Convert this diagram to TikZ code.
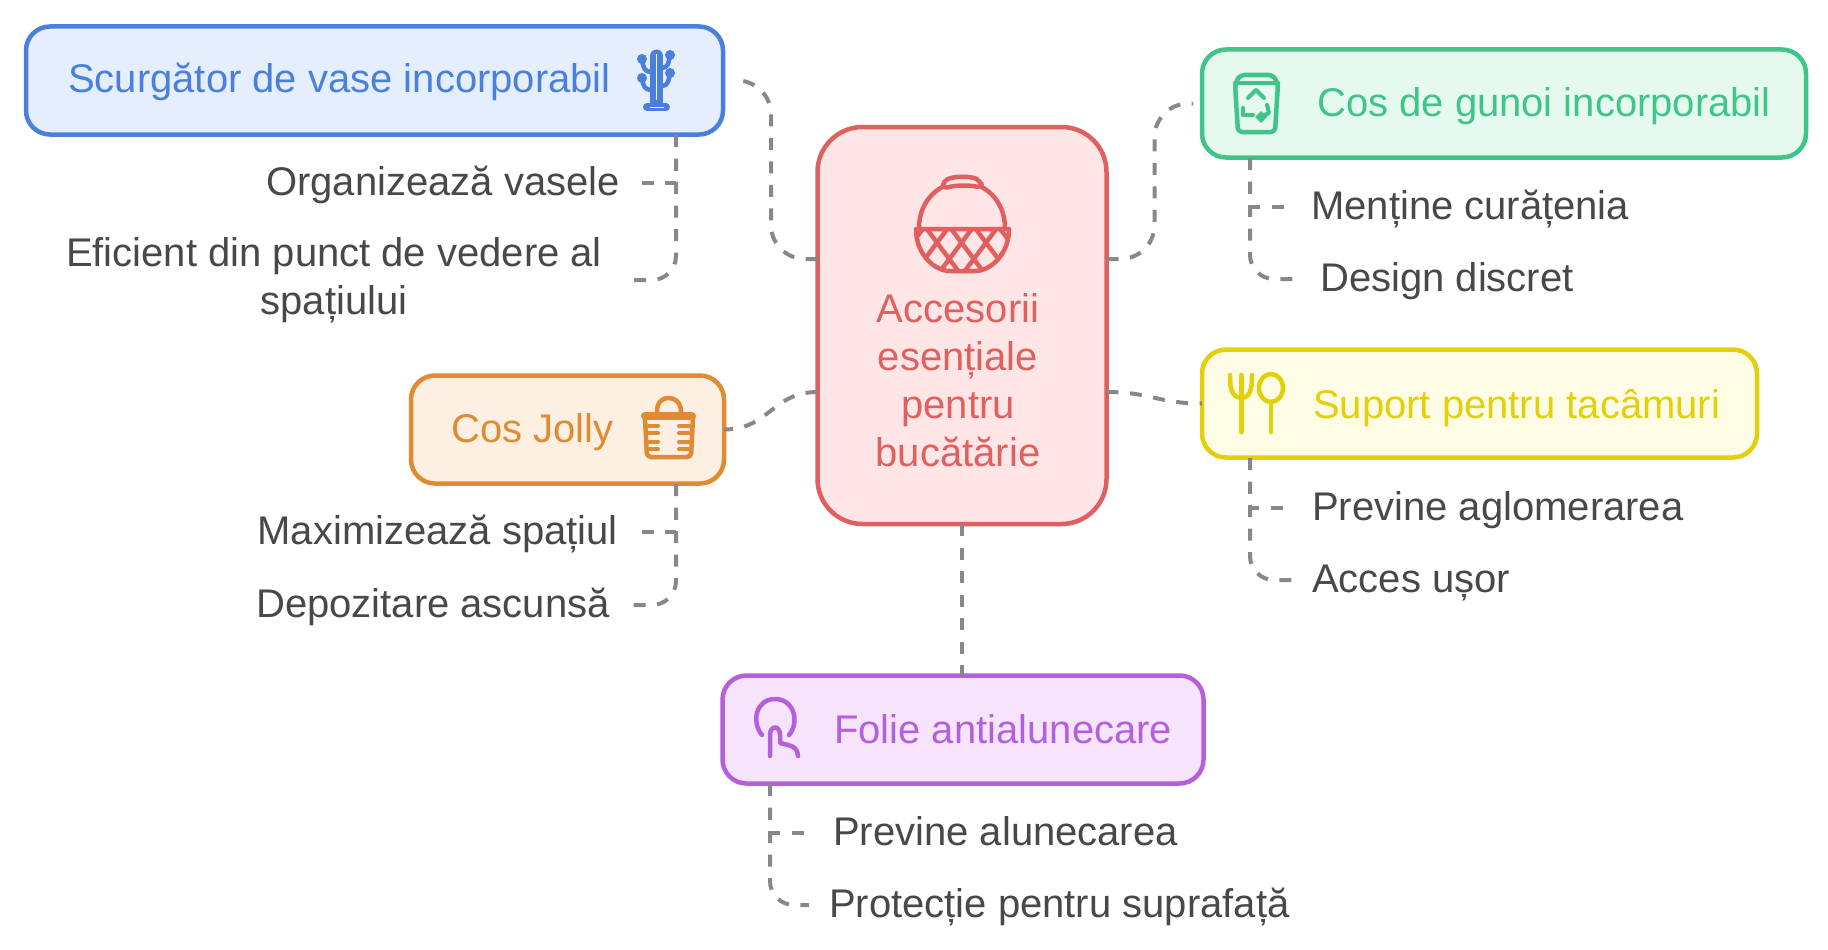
\documentclass[tikz,border=0pt]{standalone}
\usepackage{fontspec}
\setmainfont{Liberation Sans}
\definecolor{bluel}{HTML}{4A80DC}\definecolor{bluef}{HTML}{E4EEFD}
\definecolor{greenl}{HTML}{3FC48A}\definecolor{greenf}{HTML}{E6F9EF}
\definecolor{yell}{HTML}{E3CF0A}\definecolor{yelf}{HTML}{FEFCE4}
\definecolor{oral}{HTML}{E08A32}\definecolor{oraf}{HTML}{FDF0E2}
\definecolor{purl}{HTML}{B45FDC}\definecolor{purf}{HTML}{F5E4FC}
\definecolor{redl}{HTML}{E05F5F}\definecolor{redf}{HTML}{FEE6E6}
\definecolor{leaftxt}{HTML}{484848}\definecolor{linkc}{HTML}{888888}
\tikzset{
  box/.style={draw=#1l,fill=#1f,line width=4.5pt,rounded corners=24pt,inner sep=0pt,outer sep=0pt,minimum height=108pt},
  multi/.style={font=\fontsize{40}{48}\selectfont,inner sep=0pt,align=center},
  txt/.style={multi,align=none,text height=33pt,text depth=8pt},
  title/.style={txt,anchor=west,text=#1l},
  leaf/.style={txt,text=leaftxt},
  link/.style={draw=linkc,line width=4pt,dash pattern=on 12pt off 11.5pt},
  trunk/.style={link,rounded corners=24pt},
  bendlink/.style={link,rounded corners=34pt},
  ico/.style={draw=#1l,line width=4.5pt,line cap=round,line join=round},
}
\begin{document}
\begin{tikzpicture}[x=1pt,y=-1pt]
\useasboundingbox (0,0) rectangle (1828,950);
\node [box=red,minimum width=289pt,minimum height=397pt,rounded corners=45pt] (hub) at (962,325.5) {};
\node [box=blue,minimum width=697pt] (drainer) at (374.5,80.5) {};
\node [box=green,minimum width=604pt] (bin) at (1504,103.5) {};
\node [box=yel,minimum width=555pt] (cutlery) at (1479.5,403.5) {};
\node [box=ora,minimum width=313pt] (jolly) at (567.5,429.5) {};
\node [box=pur,minimum width=481pt] (mat) at (963,729.5) {};
\node [title=blue] (drainertxt) at (68,80) {Scurgător de vase incorporabil};
\node [title=green] (bintxt) at (1317,104) {Cos de gunoi incorporabil};
\node [title=yel] (cutlerytxt) at (1313,406) {Suport pentru tacâmuri};
\node [title=ora] (jollytxt) at (451,430) {Cos Jolly};
\node [title=pur] (mattxt) at (834,731) {Folie antialunecare};
\node [multi,text=redl] (hubtxt) at (958,380) {Accesorii\\esențiale\\pentru\\bucătărie};
\node [leaf,anchor=east] (organize) at (620,183) {Organizează vasele};
\node [multi,text=leaftxt] (efficient) at (334,280) {Eficient din punct de vedere al\\spațiului};
\node [leaf,anchor=west] (clean) at (1311,207) {Menține curățenia};
\node [leaf,anchor=west] (discreet) at (1320,279) {Design discret};
\node [leaf,anchor=west] (clutter) at (1312,508) {Previne aglomerarea};
\node [leaf,anchor=west] (access) at (1312,580) {Acces ușor};
\node [leaf,anchor=east] (space) at (618,532) {Maximizează spațiul};
\node [leaf,anchor=east] (hidden) at (610,605) {Depozitare ascunsă};
\node [leaf,anchor=west] (slip) at (833,833) {Previne alunecarea};
\node [leaf,anchor=west] (protect) at (829,905) {Protecție pentru suprafață};
\coordinate (bendblue) at (771,80.5);
\coordinate (bendgreen) at (1154.5,103.5);
\draw [bendlink] ([yshift=66.5pt]hub.west) -| (bendblue) -- ([xshift=10pt]drainer.east);
\draw [bendlink] ([yshift=66.5pt]hub.east) -| (bendgreen) -- ([xshift=-9pt]bin.west);
\draw [link] ([yshift=-66.5pt]hub.west) .. controls +(-45,0) and +(45,0) .. (jolly.east);
\draw [link] ([yshift=-66.5pt]hub.east) .. controls +(45,0) and +(-45,0) .. (cutlery.west);
\draw [link] (hub.south) -- (hub.south |- mat.north);
\coordinate (trunkblue) at (676,135);
\coordinate (trunkgreen) at (1250,158);
\coordinate (trunkyel) at (1250,458);
\coordinate (trunkora) at (676,484);
\coordinate (trunkpur) at (770,784);
\draw [link] (trunkblue) |- ([xshift=20pt]organize.east);
\draw [trunk] (trunkblue) |- ([xshift=31pt]efficient.east);
\draw [link] (trunkgreen) |- ([xshift=-25pt]clean.west);
\draw [trunk] (trunkgreen) |- ([xshift=-18pt]discreet.west);
\draw [link] (trunkyel) |- ([xshift=-26pt]clutter.west);
\draw [trunk] (trunkyel) |- ([xshift=-18pt]access.west);
\draw [link] (trunkora) |- ([xshift=18pt]space.east);
\draw [trunk] (trunkora) |- ([xshift=20pt]hidden.east);
\draw [link] (trunkpur) |- ([xshift=-27pt]slip.west);
\draw [trunk] (trunkpur) |- ([xshift=-20pt]protect.west);
% hub basket
\draw [ico=red] (919,228) .. controls (919,200) and (940,182) .. (962,182) .. controls (984,182) and (1005,200) .. (1005,228);
\draw [ico=red,fill=redf,rounded corners=5pt] (943,181) .. controls (955,176) and (970,176) .. (981,181) -- (982,188) .. controls (970,185) and (955,185) .. (943,189) -- cycle;
\begin{scope}
\clip (916,229) .. controls (916,255) and (935,271) .. (950,271) -- (975,271) .. controls (990,271) and (1009,255) .. (1009,229) -- cycle;
\foreach \s in {901.5,926,950.5,975,999.5} {
  \draw [ico=red] (\s,228) -- ++(36,48);
  \draw [ico=red] (\s+22,228) -- ++(-36,48);
}
\end{scope}
\draw [ico=red] (916,229) .. controls (916,255) and (935,271) .. (950,271) -- (975,271) .. controls (990,271) and (1009,255) .. (1009,229) -- cycle;
% drainer icon
\draw [ico=blue,line width=13pt] (656.5,56) -- (656.5,104);
\draw [white!30!bluef,line width=1.5pt] (656.5,54) -- (656.5,100);
\draw [ico=blue,line width=8pt] (647,107) -- (666,107);
\draw [bluef,line width=1pt] (650,107) -- (664,107);
\draw [ico=blue] (651,72) .. controls (645,72) and (643,68) .. (642,59);
\draw [ico=blue] (651,90) .. controls (645,90) and (643,86) .. (642,78);
\draw [ico=blue] (662,68) .. controls (668,68) and (669,62) .. (670,55);
\draw [ico=blue] (662,86) .. controls (668,86) and (669,80) .. (670,73);
\foreach \p in {(642,59),(670,55),(642,78),(670,73)}
  \fill [bluel] \p circle (5);
% bin icon
\draw [ico=green,rounded corners=4pt] (1235,84) -- (1240,75) -- (1273,75) -- (1278,84) -- (1275,132) -- (1238,132) -- cycle;
\draw [ico=green] (1235,83) -- (1278,83);
\draw [ico=green,line width=4pt] (1248,98) -- (1256,90) -- (1264,98);
\draw [ico=green,line width=4pt] (1243,108) -- (1243,115) -- (1253,115);
\draw [ico=green,line width=4pt] (1267,105) -- (1269,113) -- (1260,117);
\fill [greenl] (1261,111) -- (1267,117) -- (1261,123) -- (1255,117) -- cycle;
% cutlery icon
\draw [ico=yel] (1230,375) .. controls (1230,390) and (1232,397) .. (1241.5,398) .. controls (1250,397) and (1252,390) .. (1252,375);
\draw [ico=yel] (1241.5,375) -- (1241.5,432);
\draw [ico=yel] (1271,388) ellipse (12 and 14);
\draw [ico=yel] (1271,402) -- (1271,432);
% jolly icon
\draw [ico=ora] (657,412) .. controls (657,402) and (662,398) .. (668.5,398) .. controls (675,398) and (681,402) .. (681,412);
\draw [ico=ora,line width=8pt] (645,416) -- (692,416);
\draw [ico=ora,rounded corners=4pt] (645,418) -- (647,457) -- (691,457) -- (693,418);
\foreach \r in {426,433,442,449} {
  \draw [ico=ora,line width=4pt] (649,\r) -- (658,\r);
  \draw [ico=ora,line width=4pt] (679,\r) -- (689,\r);
}
% mat icon
\draw [ico=pur] (762,735) .. controls (751,722) and (756,699) .. (775,699) .. controls (794,699) and (800,722) .. (789,735);
\draw [ico=pur] (770,756) -- (770,735) .. controls (770,725) and (780,725) .. (780,735) -- (780,743) -- (788,745) .. controls (794,746) and (798,750) .. (798,756);
\end{tikzpicture}
\end{document}
